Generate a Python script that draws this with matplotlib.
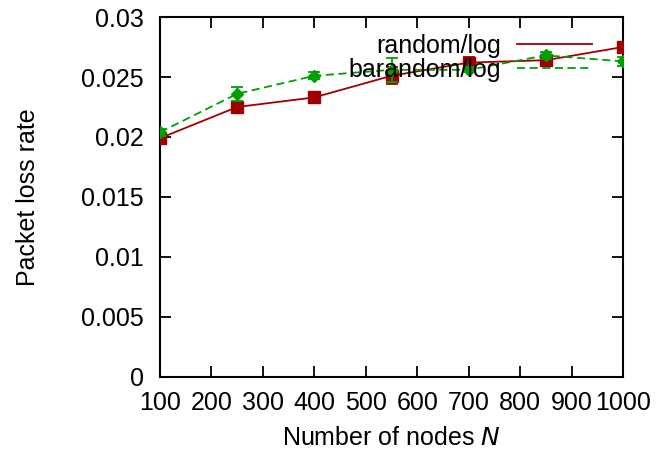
import matplotlib
matplotlib.use("Agg")
import matplotlib.pyplot as plt
from matplotlib.lines import Line2D

plt.rcParams['font.family'] = ['Liberation Sans', 'DejaVu Sans']

nodes = [100, 250, 400, 550, 700, 850, 1000]
random_log = [0.0199, 0.0225, 0.0233, 0.0251, 0.0262, 0.0264, 0.0275]
random_err = [0.0002, 0.0002, 0.0002, 0.0007, 0.0005, 0.0004, 0.0002]
barandom_log = [0.0204, 0.0236, 0.0251, 0.0256, 0.0256, 0.0268, 0.0263]
barandom_err = [0.0003, 0.0006, 0.0003, 0.0010, 0.0002, 0.0003, 0.0004]

xticks = [100, 200, 300, 400, 500, 600, 700, 800, 900, 1000]
yticks = [0, 0.005, 0.01, 0.015, 0.02, 0.025, 0.03]
ytick_labels = ['0', '0.005', '0.01', '0.015', '0.02', '0.025', '0.03']

red = '#a00000'
green = '#00a000'
fs = 18
dash = (0, (4.5, 2.5))

fig = plt.figure(figsize=(6.7, 4.54), dpi=100)
ax = fig.add_axes([160/670, 1-377/454, (623-160)/670, (377-17)/454])

ax.errorbar(nodes, random_log, yerr=random_err, color=red, lw=1.3, marker='s',
            markersize=8.6, capsize=4, elinewidth=1.3, capthick=1.3, zorder=3)
ax.errorbar(nodes, barandom_log, yerr=barandom_err, color=green, lw=1.3, ls=dash,
            marker='D', markersize=6, capsize=4, elinewidth=1.3, capthick=1.3, zorder=4)

ax.set_xlim(100, 1000)
ax.set_ylim(0, 0.03)
ax.set_xticks(xticks)
ax.set_xticklabels([str(t) for t in xticks])
ax.set_yticks(yticks)
ax.set_yticklabels(ytick_labels)
ax.tick_params(direction='in', length=8, width=1.3, top=True, right=True,
               labelsize=fs)
ax.tick_params(axis='x', pad=10)
ax.tick_params(axis='y', pad=11.5)
for s in ax.spines.values():
    s.set_linewidth(1.5)

ax.set_xlabel('Number of nodes $\\mathit{N}$', fontsize=fs, labelpad=8)
ax.set_ylabel('Packet loss rate', fontsize=fs, labelpad=30)

handles = [Line2D([], [], color=red, lw=1.3),
           Line2D([], [], color=green, lw=1.3, ls=dash)]
leg = ax.legend(handles, ['random/log', 'barandom/log'], loc='upper right',
                frameon=False, markerfirst=False, fontsize=fs, handlelength=3.0,
                borderaxespad=0, borderpad=0, labelspacing=0.0, handletextpad=0.65,
                bbox_to_anchor=(592/670, 1-34/454), bbox_transform=fig.transFigure)
for t in leg.get_texts():
    t.set_ha('right')

fig.savefig('out.png', dpi=100)
